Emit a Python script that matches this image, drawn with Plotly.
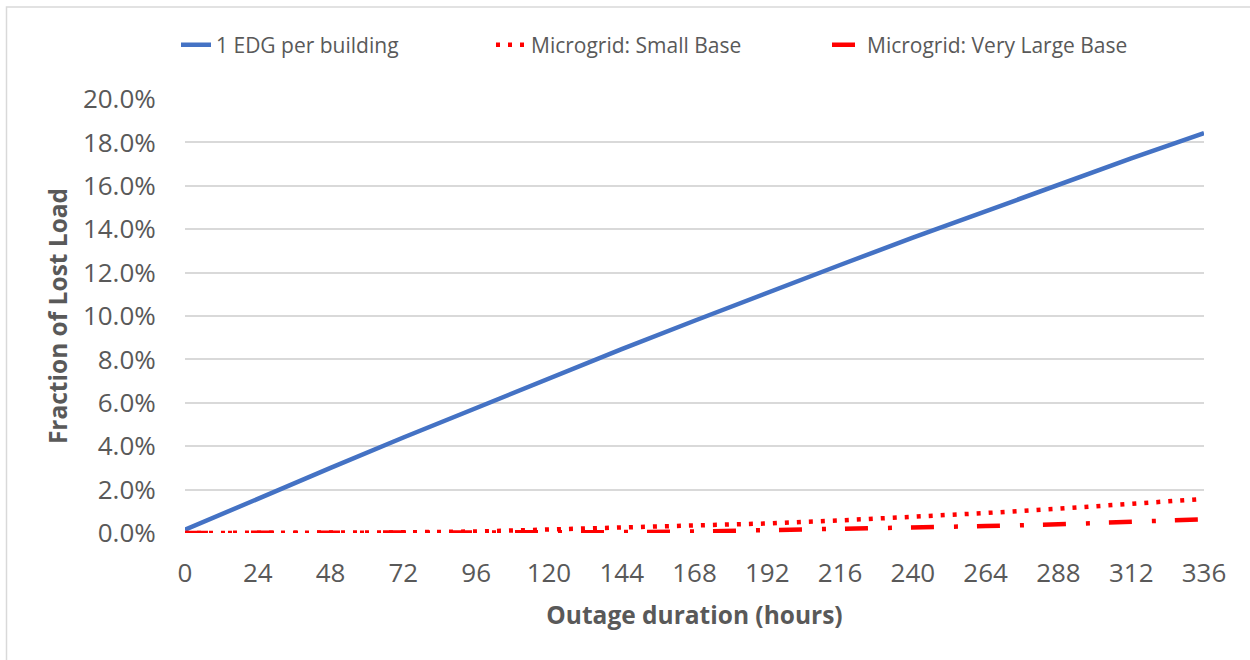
import plotly.graph_objects as go

hours = [0, 24, 48, 72, 96, 120, 144, 168, 192, 216, 240, 264, 288, 312, 336]
edg_per_building = [0.0015, 0.0160, 0.0300, 0.0440, 0.0577, 0.0713, 0.0847, 0.0978, 0.1108, 0.1235, 0.1361, 0.1484, 0.1606, 0.1726, 0.1843]
microgrid_small = [0.0, 0.0, 0.0001, 0.0003, 0.0007, 0.0015, 0.0024, 0.0033, 0.0044, 0.0058, 0.0074, 0.0092, 0.0112, 0.0134, 0.0157]
microgrid_very_large = [0.0, 0.0, 0.0, 0.0, 0.0001, 0.0002, 0.0004, 0.0007, 0.0012, 0.0017, 0.0025, 0.0032, 0.0040, 0.0050, 0.0063]
x_ticks = list(range(0, 337, 24))
y_ticks = [i / 100 for i in range(0, 21, 2)]

TXT = "#595959"
FONT = "Open Sans"

fig = go.Figure()
fig.add_trace(go.Scatter(x=hours, y=edg_per_building, mode="lines", name="1 EDG per building",
                         line=dict(color="#4472C4", width=4.5), legend="legend", showlegend=True))
fig.add_trace(go.Scatter(x=hours, y=microgrid_small, mode="lines", name="Microgrid: Small Base",
                         line=dict(color="#FF0000", width=4.5, dash="4px,8px"), legend="legend2", showlegend=True))
fig.add_trace(go.Scatter(x=hours, y=microgrid_very_large, mode="lines", name="Microgrid: Very Large Base",
                         line=dict(color="#FF0000", width=4.5, dash="23px,20px,4px,19px"), legend="legend3", showlegend=True))

L, R, T, B = 185, 46, 99, 127
W, H = 1250, 660
pw, ph = W - L - R, H - T - B

def px_x(p):
    return (p - L) / pw

def px_y(p):
    return (H - B - p) / ph

leg_common = dict(orientation="h", yanchor="middle", xanchor="left", xref="container", yref="container",
                  y=1 - 45 / H, font=dict(family=FONT, size=21, color=TXT), bgcolor="rgba(0,0,0,0)")

fig.update_layout(
    width=W, height=H,
    showlegend=True,
    margin=dict(l=L, r=R, t=T, b=B),
    paper_bgcolor="white", plot_bgcolor="white",
    font=dict(family=FONT, color=TXT),
    legend=dict(x=176 / W, **leg_common),
    legend2=dict(x=491 / W, **leg_common),
    legend3=dict(x=827 / W, **leg_common),
    xaxis=dict(range=[0, 336], tickvals=x_ticks, ticktext=[str(v) for v in x_ticks],
               showgrid=False, zeroline=False, showline=False,
               ticks="outside", ticklen=17, tickcolor="rgba(0,0,0,0)",
               tickfont=dict(family=FONT, size=26, color=TXT),
               title=dict(text="<b>Outage duration (hours)</b>", standoff=17,
                          font=dict(family=FONT, size=24.5, color=TXT))),
    yaxis=dict(range=[0, 0.2], tickvals=y_ticks, tickformat=".1%",
               showgrid=True, gridcolor="#d9d9d9", gridwidth=1.5, zeroline=False, showline=False,
               ticks="outside", ticklen=23, tickcolor="rgba(0,0,0,0)",
               tickfont=dict(family=FONT, size=26, color=TXT),
               title=dict(text="<b>Fraction of Lost Load</b>", standoff=8,
                          font=dict(family=FONT, size=24.5, color=TXT))),
    shapes=[dict(type="rect", xref="paper", yref="paper",
                 x0=px_x(6.5), x1=px_x(1270), y0=px_y(680), y1=px_y(7),
                 line=dict(color="#d9d9d9", width=1.5), fillcolor="rgba(0,0,0,0)", layer="below")],
)

fig.write_html("out.html", config={"displayModeBar": False},
               post_script="document.body.style.margin='0';document.body.style.overflow='hidden';")
